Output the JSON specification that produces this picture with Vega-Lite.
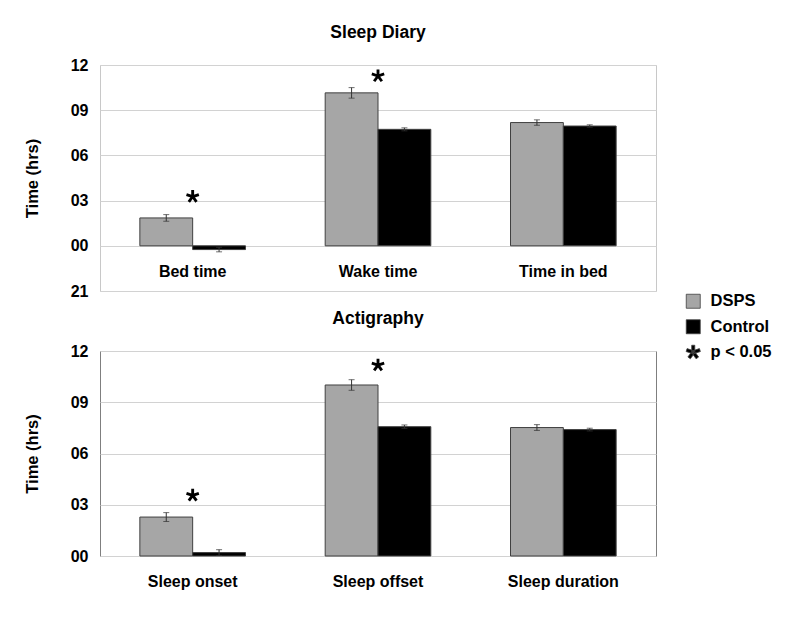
{
  "$schema": "https://vega.github.io/schema/vega-lite/v6.json",
  "padding": {"left": 23, "top": 23, "right": 10, "bottom": 10},
  "background": "white",
  "config": {
    "font": "Liberation Sans",
    "title": {"fontSize": 17.5, "fontWeight": "bold", "color": "black", "offset": 16, "font": "Liberation Sans"},
    "axis": {"labelFont": "Liberation Sans", "labelFontSize": 16, "labelFontWeight": "bold", "labelColor": "black", "titleFont": "Liberation Sans", "titleFontSize": 16.5, "titleFontWeight": "bold", "titleColor": "black", "domain": false, "ticks": false, "tickSize": 0, "gridColor": "#d2d2d2", "gridWidth": 1},
    "axisY": {"labelPadding": 12, "titlePadding": 30},
    "legend": {"labelFont": "Liberation Sans", "labelFontSize": 16.5, "labelFontWeight": "bold", "labelColor": "black", "symbolSize": 196, "rowPadding": 7.5, "labelOffset": 9, "symbolStrokeWidth": 0.8, "symbolStrokeColor": "#404040"}
  },
  "datasets": {
    "diary": [
      {"cat": "Bed time", "group": "DSPS", "value": 1.85, "lo": 1.63, "hi": 2.07},
      {"cat": "Bed time", "group": "Control", "value": -0.25, "lo": -0.4, "hi": -0.1},
      {"cat": "Wake time", "group": "DSPS", "value": 10.15, "lo": 9.8, "hi": 10.5},
      {"cat": "Wake time", "group": "Control", "value": 7.73, "lo": 7.63, "hi": 7.83},
      {"cat": "Time in bed", "group": "DSPS", "value": 8.18, "lo": 8.0, "hi": 8.36},
      {"cat": "Time in bed", "group": "Control", "value": 7.95, "lo": 7.87, "hi": 8.03}
    ],
    "diaryStars": [
      {"cat": "Bed time", "group": "p < 0.05", "y": 3.27},
      {"cat": "Wake time", "group": "p < 0.05", "y": 11.27}
    ],
    "acti": [
      {"cat": "Sleep onset", "group": "DSPS", "value": 2.28, "lo": 2.02, "hi": 2.54},
      {"cat": "Sleep onset", "group": "Control", "value": 0.2, "lo": 0.03, "hi": 0.37},
      {"cat": "Sleep offset", "group": "DSPS", "value": 10.01, "lo": 9.7, "hi": 10.32},
      {"cat": "Sleep offset", "group": "Control", "value": 7.57, "lo": 7.47, "hi": 7.67},
      {"cat": "Sleep duration", "group": "DSPS", "value": 7.52, "lo": 7.35, "hi": 7.69},
      {"cat": "Sleep duration", "group": "Control", "value": 7.4, "lo": 7.32, "hi": 7.48}
    ],
    "actiStars": [
      {"cat": "Sleep onset", "group": "p < 0.05", "y": 3.55},
      {"cat": "Sleep offset", "group": "p < 0.05", "y": 11.17}
    ]
  },
  "spacing": 60,
  "bounds": "flush",
  "resolve": {"legend": {"color": "independent", "shape": "independent"}},
  "vconcat": [
    {
      "width": 556,
      "height": 226,
      "title": {"text": "Sleep Diary"},
      "view": {"stroke": "#c8c8c8"},
      "data": {"name": "diary"},
      "encoding": {
        "x": {"field": "cat", "type": "nominal", "sort": ["Bed time", "Wake time", "Time in bed"],
              "scale": {"paddingInner": 0.43, "paddingOuter": 0.215},
              "axis": {"title": null, "labelAngle": 0, "offset": -46, "labelPadding": 18, "grid": false}}
      },
      "layer": [
        {
          "mark": {"type": "bar", "stroke": "#404040", "strokeWidth": 1},
          "encoding": {
            "xOffset": {"field": "group", "type": "nominal", "scale": {"domain": ["DSPS", "Control"], "paddingInner": 0, "paddingOuter": 0}},
            "y": {"field": "value", "type": "quantitative", "title": "Time (hrs)",
                  "scale": {"domain": [-3, 12], "nice": false, "zero": false},
                  "axis": {"values": [-3, 0, 3, 6, 9, 12], "grid": true, "labelExpr": "datum.value < 0 ? format(datum.value + 24, '02d') : format(datum.value, '02d')"}},
            "color": {"field": "group", "type": "nominal", "scale": {"domain": ["DSPS", "Control", "p < 0.05"], "range": ["#a6a6a6", "#000000", "#000000"]},
                      "legend": {"title": null, "orient": "none", "legendX": 585, "legendY": 228}}
          }
        },
        {
          "mark": {"type": "rule", "color": "#333333", "strokeWidth": 1},
          "encoding": {
            "xOffset": {"field": "group", "type": "nominal"},
            "y": {"field": "lo", "type": "quantitative", "title": "Time (hrs)"},
            "y2": {"field": "hi"}
          }
        },
        {
          "mark": {"type": "tick", "color": "#333333", "size": 6, "thickness": 1},
          "encoding": {
            "xOffset": {"field": "group", "type": "nominal"},
            "y": {"field": "lo", "type": "quantitative", "title": "Time (hrs)"}
          }
        },
        {
          "mark": {"type": "tick", "color": "#333333", "size": 6, "thickness": 1},
          "encoding": {
            "xOffset": {"field": "group", "type": "nominal"},
            "y": {"field": "hi", "type": "quantitative", "title": "Time (hrs)"}
          }
        },
        {
          "data": {"name": "diaryStars"},
          "mark": {"type": "point", "filled": true, "size": 170, "opacity": 1},
          "encoding": {
            "y": {"field": "y", "type": "quantitative", "title": "Time (hrs)"},
            "color": {"field": "group", "type": "nominal",
                      "legend": {"title": null, "orient": "none", "legendX": 585, "legendY": 228}},
            "shape": {"field": "group", "type": "nominal",
                      "legend": {"title": null, "orient": "none", "legendX": 585, "legendY": 228},
                      "scale": {"domain": ["DSPS", "Control", "p < 0.05"], "range": ["square", "square", "M0.22,0L0.22,-1L-0.22,-1L-0.22,0Z M0.068,0.209L1.019,-0.1L0.883,-0.518L-0.068,-0.209Z M0.068,-0.209L-0.883,-0.518L-1.019,-0.1L-0.068,0.209Z M-0.178,-0.129L-0.766,0.68L-0.41,0.938L0.178,0.129Z M-0.178,0.129L0.41,0.938L0.766,0.68L0.178,-0.129Z"]}}
          }
        }
      ]
    },
    {
      "width": 556,
      "height": 205,
      "title": {"text": "Actigraphy"},
      "view": {"stroke": "#7f7f7f"},
      "data": {"name": "acti"},
      "encoding": {
        "x": {"field": "cat", "type": "nominal", "sort": ["Sleep onset", "Sleep offset", "Sleep duration"],
              "scale": {"paddingInner": 0.43, "paddingOuter": 0.215},
              "axis": {"title": null, "labelAngle": 0, "labelPadding": 17, "grid": false}}
      },
      "layer": [
        {
          "mark": {"type": "bar", "stroke": "#404040", "strokeWidth": 1},
          "encoding": {
            "xOffset": {"field": "group", "type": "nominal", "scale": {"domain": ["DSPS", "Control"], "paddingInner": 0, "paddingOuter": 0}},
            "y": {"field": "value", "type": "quantitative", "title": "Time (hrs)",
                  "scale": {"domain": [0, 12], "nice": false},
                  "axis": {"values": [0, 3, 6, 9, 12], "grid": true, "labelExpr": "format(datum.value, '02d')"}},
            "color": {"field": "group", "type": "nominal", "scale": {"domain": ["DSPS", "Control", "p < 0.05"], "range": ["#a6a6a6", "#000000", "#000000"]}, "legend": null}
          }
        },
        {
          "mark": {"type": "rule", "color": "#333333", "strokeWidth": 1},
          "encoding": {
            "xOffset": {"field": "group", "type": "nominal"},
            "y": {"field": "lo", "type": "quantitative", "title": "Time (hrs)"},
            "y2": {"field": "hi"}
          }
        },
        {
          "mark": {"type": "tick", "color": "#333333", "size": 6, "thickness": 1},
          "encoding": {
            "xOffset": {"field": "group", "type": "nominal"},
            "y": {"field": "lo", "type": "quantitative", "title": "Time (hrs)"}
          }
        },
        {
          "mark": {"type": "tick", "color": "#333333", "size": 6, "thickness": 1},
          "encoding": {
            "xOffset": {"field": "group", "type": "nominal"},
            "y": {"field": "hi", "type": "quantitative", "title": "Time (hrs)"}
          }
        },
        {
          "data": {"name": "actiStars"},
          "mark": {"type": "point", "filled": true, "size": 170, "opacity": 1},
          "encoding": {
            "y": {"field": "y", "type": "quantitative", "title": "Time (hrs)"},
            "color": {"field": "group", "type": "nominal", "legend": null},
            "shape": {"field": "group", "type": "nominal", "legend": null,
                      "scale": {"domain": ["DSPS", "Control", "p < 0.05"], "range": ["square", "square", "M0.22,0L0.22,-1L-0.22,-1L-0.22,0Z M0.068,0.209L1.019,-0.1L0.883,-0.518L-0.068,-0.209Z M0.068,-0.209L-0.883,-0.518L-1.019,-0.1L-0.068,0.209Z M-0.178,-0.129L-0.766,0.68L-0.41,0.938L0.178,0.129Z M-0.178,0.129L0.41,0.938L0.766,0.68L0.178,-0.129Z"]}}
          }
        }
      ]
    }
  ]
}
